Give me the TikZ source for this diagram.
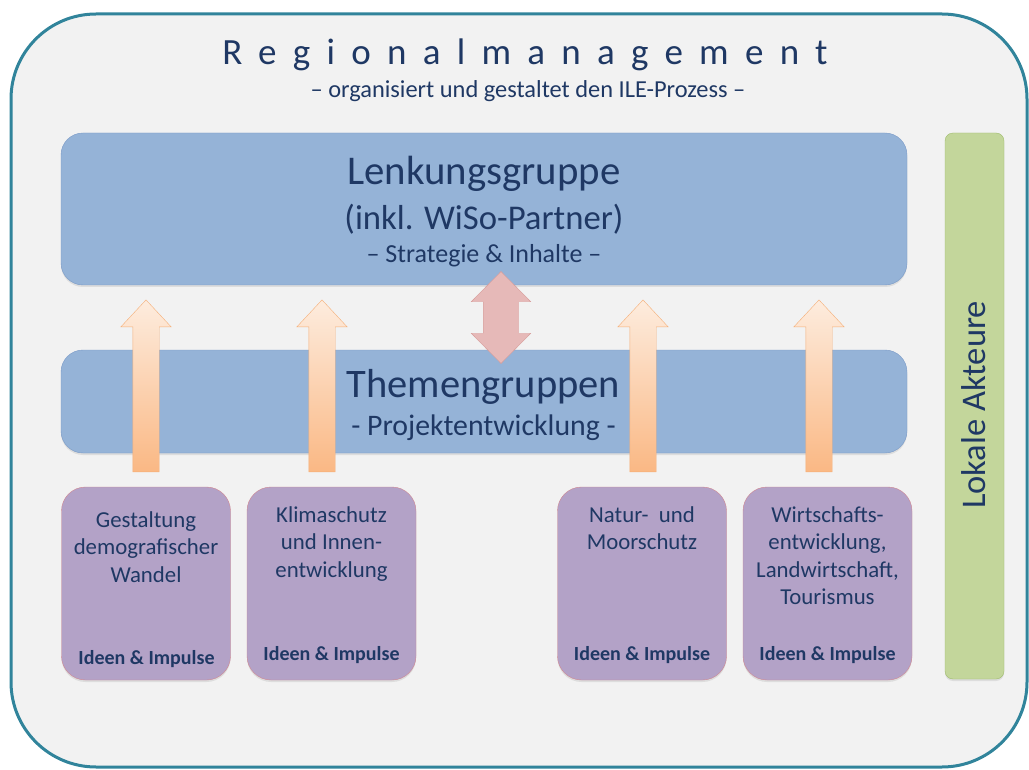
\documentclass[tikz,border=0pt]{standalone}
\usepackage{fontspec}
\setmainfont{Carlito}
\usepackage{xcolor}
\usepackage{tikz}
\usetikzlibrary{shapes.arrows,shadows,calc,positioning}

\definecolor{framecol}{RGB}{49,132,155}
\definecolor{panelbg}{RGB}{242,242,242}
\definecolor{navy}{RGB}{31,56,100}
\definecolor{groupblue}{RGB}{149,179,215}
\definecolor{groupline}{RGB}{122,154,199}
\definecolor{themepurple}{RGB}{179,162,199}
\definecolor{themeline}{RGB}{208,135,145}
\definecolor{actorgreen}{RGB}{195,214,155}
\definecolor{actorline}{RGB}{160,188,110}
\definecolor{arrowlight}{RGB}{253,236,222}
\definecolor{arrowdark}{RGB}{250,184,132}
\definecolor{arrowline}{RGB}{245,175,120}
\definecolor{dblfill}{RGB}{230,185,184}
\definecolor{dblline}{RGB}{215,155,152}

\newcommand{\fsz}[2]{\fontsize{#1}{#2}\selectfont}

\begin{document}
\begin{tikzpicture}[x=1pt,y=-1pt,
                    frame/.style={draw=framecol, line width=3pt, fill=panelbg, rounded corners=85pt, inner sep=0pt},
                    groupbox/.style={draw=groupline, fill=groupblue, rounded corners=22pt, minimum width=846pt, inner sep=0pt,
                                     drop shadow={shadow xshift=0pt, shadow yshift=-2pt, opacity=.18}},
                    themebox/.style={draw=themeline, fill=themepurple, rounded corners=24pt, minimum width=169pt, minimum height=193pt, inner sep=0pt,
                                     drop shadow={shadow xshift=0pt, shadow yshift=-2pt, opacity=.18}},
                    actorbox/.style={draw=actorline, fill=actorgreen, rounded corners=8pt, minimum width=59pt, minimum height=546pt, inner sep=0pt,
                                     drop shadow={shadow xshift=0pt, shadow yshift=-2pt, opacity=.18}},
                    lbl/.style={text=navy, anchor=base, inner sep=0pt},
                    themetext/.style={lbl, align=center, font=\fsz{22.8}{27.5}},
                    impulse/.style={lbl, font=\fsz{20}{24}\bfseries},
                    uparrow/.style={single arrow, shape border rotate=90, draw=arrowline, top color=arrowlight, bottom color=arrowdark,
                                    inner ysep=0pt, inner xsep=13pt, single arrow head extend=12pt, single arrow tip angle=86, minimum height=172pt,
                                    yshift=-7pt},
                    dblarrow/.style={double arrow, shape border rotate=90, draw=dblline, fill=dblfill,
                                     inner ysep=0pt, inner xsep=17.5pt, double arrow head extend=12pt, double arrow tip angle=89, minimum height=92pt},
                   ]

\useasboundingbox (0,0) rectangle (1029,770);

% outer frame
\node[frame, minimum width=1016pt, minimum height=753pt] (regio) at (519,390.5) {};
\node[lbl, font=\fsz{37}{40}\addfontfeatures{LetterSpace=44}] (regiotitle) at (525,65) {Regionalmanagement};
\node[lbl, font=\fsz{24.4}{28}] (regiosub) at (528,98) {-- organisiert und gestaltet den ILE-Prozess --};

% groups
\node[groupbox, minimum height=152pt] (lenk) at (484,209) {};
\node[groupbox, minimum height=103pt] (themen) at (484,401.5) {};
\node[actorbox] (akteure) at (974.5,406) {};

\node[lbl, font=\fsz{40.8}{44}] (lenkname) at (484,185) {Lenkungsgruppe};
\node[lbl, font=\fsz{34.7}{40}] (lenkwiso) at (484,230) {(inkl. WiSo-Partner)};
\node[lbl, font=\fsz{26}{30}] (lenkaufg) at (484,263) {-- Strategie \& Inhalte --};

\node[lbl, font=\fsz{40.5}{44}] (themenname) at (483.5,397) {Themengruppen};
\node[lbl, font=\fsz{29.8}{34}] (themenaufg) at (483.5,435) {- Projektentwicklung -};

\node[lbl, rotate=90, font=\fsz{34.5}{40}] (akteurename) at (985,405) {Lokale Akteure};

% themes
\node[themebox] (demo) at (146,583.5) {};
\node[themebox] (klima) at (331.5,583.5) {};
\node[themebox] (natur) at (642,583.5) {};
\node[themebox] (wirt) at (827.5,583.5) {};

% multi-line labels sit on their last baseline
\node[themetext] (demotext) at (146,582) {Gestaltung\\demografischer\\Wandel};
\node[themetext] (klimatext) at (331.5,577) {Klimaschutz\\und Innen-\\entwicklung};
\node[themetext] (naturtext) at (642,549.5) {Natur-~ und\\Moorschutz};
\node[themetext] (wirttext) at (827.5,604.5) {Wirtschafts-\\entwicklung,\\Landwirtschaft,\\Tourismus};

\node[impulse] (demoimp) at (146.5,664) {Ideen \& Impulse};
\node[impulse] (klimaimp) at (331.5,660) {Ideen \& Impulse};
\node[impulse] (naturimp) at (642,660) {Ideen \& Impulse};
\node[impulse] (wirtimp) at (827.5,660) {Ideen \& Impulse};

% arrows
\node[uparrow] (demoarr) at ($(146,0 |- demo.north)!.5!(146,0 |- lenk.south)$) {};
\node[uparrow] (klimaarr) at ($(322,0 |- klima.north)!.5!(322,0 |- lenk.south)$) {};
\node[uparrow] (naturarr) at ($(643,0 |- natur.north)!.5!(643,0 |- lenk.south)$) {};
\node[uparrow] (wirtarr) at ($(819,0 |- wirt.north)!.5!(819,0 |- lenk.south)$) {};
\node[dblarrow] (lenkthemen) at ($(501,0 |- lenk.south)!.5!(501,0 |- themen.north)$) {};

\end{tikzpicture}
\end{document}
